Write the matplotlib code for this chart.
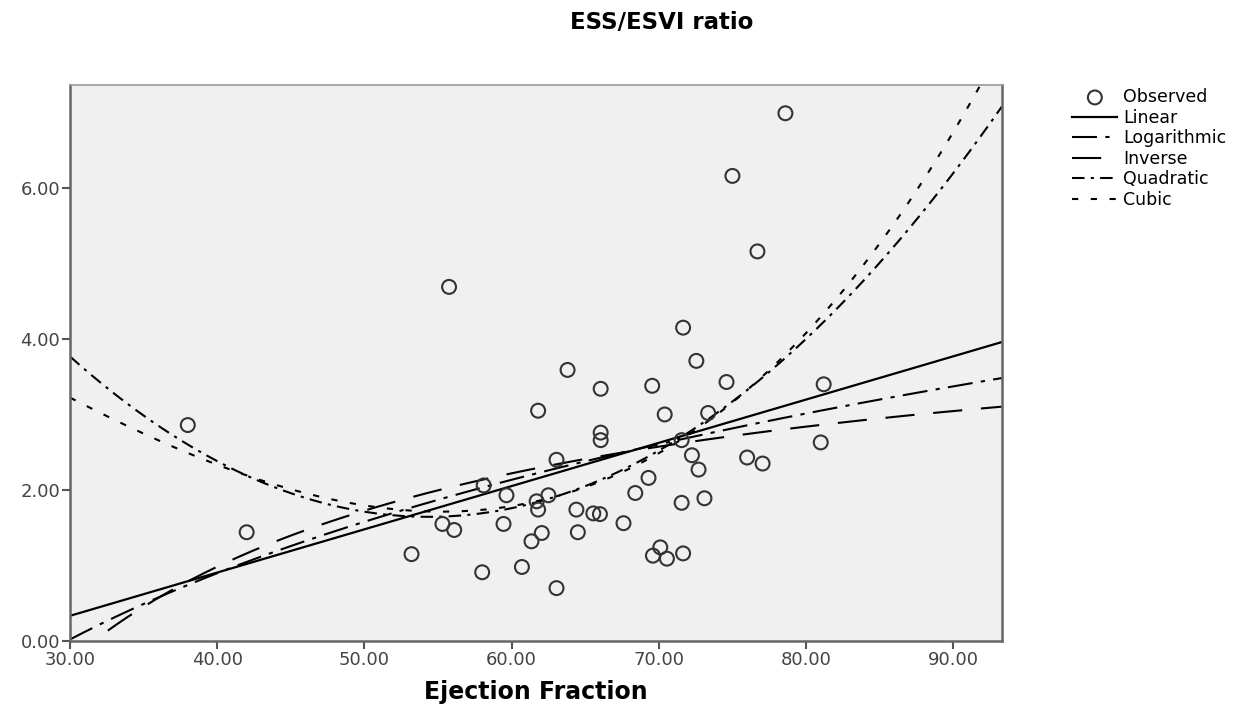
import numpy as np
import matplotlib
matplotlib.use("Agg")
import matplotlib.pyplot as plt

plt.rcParams['font.family'] = ['DejaVu Sans']

ef = [38.0, 42.0, 53.2, 55.3, 55.75, 56.1, 58.0, 58.1, 59.45, 59.65,
      60.7, 61.35, 61.7, 61.8, 61.8, 62.05, 62.5, 63.05, 63.05, 63.8,
      64.4, 64.5, 65.55, 66.0, 66.05, 66.05, 66.05, 67.6, 68.4, 69.3,
      69.55, 69.6, 70.1, 70.4, 70.55, 71.55, 71.55, 71.65, 71.65, 72.25,
      72.55, 72.7, 73.1, 73.35, 74.6, 75.0, 76.0, 76.7, 77.05, 78.6,
      81.0, 81.2]
ratio = [2.86, 1.44, 1.15, 1.55, 4.69, 1.47, 0.91, 2.06, 1.55, 1.93,
         0.98, 1.32, 1.85, 1.74, 3.05, 1.43, 1.93, 2.40, 0.70, 3.59,
         1.74, 1.44, 1.69, 1.68, 2.66, 2.76, 3.34, 1.56, 1.96, 2.16,
         3.38, 1.13, 1.24, 3.00, 1.09, 1.83, 2.66, 4.15, 1.16, 2.46,
         3.71, 2.27, 1.89, 3.02, 3.43, 6.16, 2.43, 5.16, 2.35, 6.99,
         2.63, 3.40]

x_ticks = [30, 40, 50, 60, 70, 80, 90]
y_ticks = [0, 2, 4, 6]

x = np.array(ef)
y = np.array(ratio)

# curve estimation, same models as the SPSS output
lin = np.polyfit(x, y, 1)
logm = np.polyfit(np.log(x), y, 1)
inv = np.polyfit(1 / x, y, 1)
quad = np.polyfit(x, y, 2)
cub = np.polyfit(x, y, 3)

xx = np.linspace(30, 93.3, 400)

fig = plt.figure(figsize=(12.46, 7.11), dpi=100)
ax = fig.add_axes([0.0562, 0.0985, 0.7478, 0.7815])
ax.set_facecolor('#f0f0f0')

ax.scatter(x, y, s=100, facecolors='none', edgecolors='#333333', linewidths=1.5,
           zorder=3, label='Observed')
ax.plot(xx, np.polyval(lin, xx), color='black', lw=1.6, label='Linear')
ax.plot(xx, np.polyval(logm, np.log(xx)), color='black', lw=1.5,
        dashes=(12, 4, 2, 4), label='Logarithmic')
ax.plot(xx, np.polyval(inv, 1 / xx), color='black', lw=1.5,
        dashes=(14, 9), label='Inverse')
ax.plot(xx, np.polyval(quad, xx), color='black', lw=1.5,
        dashes=(6, 3, 1.5, 3), label='Quadratic')
ax.plot(xx, np.polyval(cub, xx), color='black', lw=1.5,
        dashes=(3, 6), label='Cubic')

ax.set_xlim(30, 93.3)
ax.set_ylim(0, 7.36)
ax.set_xticks(x_ticks)
ax.set_yticks(y_ticks)
ax.set_xticklabels([f'{v:.2f}' for v in x_ticks])
ax.set_yticklabels([f'{v:.2f}' for v in y_ticks])
ax.tick_params(direction='out', length=6, width=1.5, colors='#555555',
               labelcolor='#444444', labelsize=13, pad=1)
for side in ['left', 'bottom', 'right', 'top']:
    ax.spines[side].set_color('#666666')
    ax.spines[side].set_linewidth(1.8)
ax.spines['top'].set_color('#999999')
ax.spines['top'].set_linewidth(1.2)

ax.set_xlabel('Ejection Fraction', fontsize=17, fontweight='bold', labelpad=8)
fig.suptitle('ESS/ESVI ratio', fontsize=16.5, fontweight='bold', x=0.531, y=0.985)

handles, labels = ax.get_legend_handles_labels()
fig.legend(handles, labels, loc='upper left', bbox_to_anchor=(0.855, 0.886),
           frameon=False, fontsize=12.5, handlelength=2.6, handletextpad=0.35,
           labelspacing=0.15, borderaxespad=0)

fig.savefig('out.png', dpi=100)
